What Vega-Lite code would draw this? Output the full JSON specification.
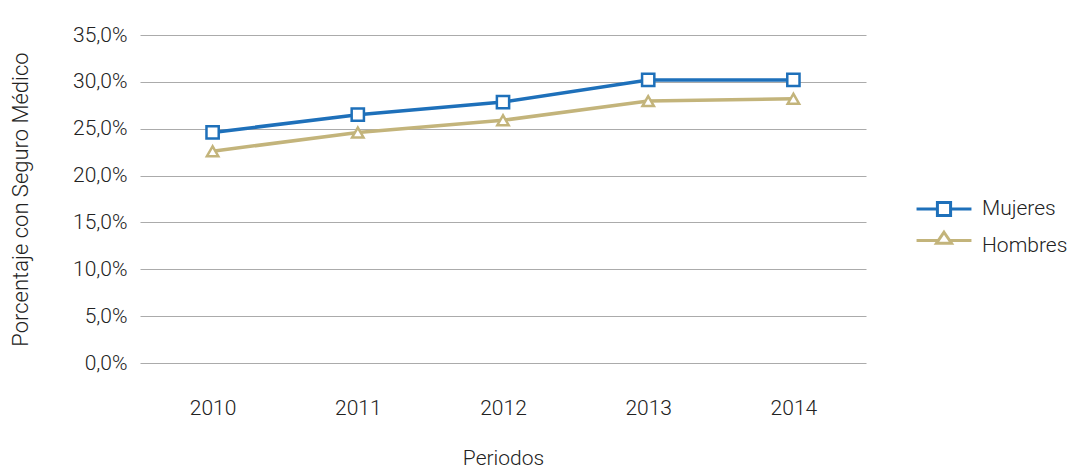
{
  "$schema": "https://vega.github.io/schema/vega-lite/v6.json",
  "width": 726,
  "height": 328,
  "autosize": {"type": "none"},
  "padding": {"left": 140, "top": 35, "right": 206, "bottom": 107},
  "background": "white",
  "config": {
    "view": {"stroke": null},
    "font": "Roboto",
    "axis": {"labelFont": "Roboto", "titleFont": "Roboto", "labelFontWeight": 300, "titleFontWeight": 300, "labelColor": "#222222", "titleColor": "#222222", "labelFontSize": 21, "titleFontSize": 21},
    "legend": {"labelFont": "Roboto", "labelFontWeight": 300, "labelColor": "#222222", "labelFontSize": 21}
  },
  "data": {
    "values": [
      {"periodo": "2010", "serie": "Mujeres", "valor": 24.6},
      {"periodo": "2011", "serie": "Mujeres", "valor": 26.5},
      {"periodo": "2012", "serie": "Mujeres", "valor": 27.85},
      {"periodo": "2013", "serie": "Mujeres", "valor": 30.2},
      {"periodo": "2014", "serie": "Mujeres", "valor": 30.2},
      {"periodo": "2010", "serie": "Hombres", "valor": 22.6},
      {"periodo": "2011", "serie": "Hombres", "valor": 24.6},
      {"periodo": "2012", "serie": "Hombres", "valor": 25.9},
      {"periodo": "2013", "serie": "Hombres", "valor": 27.95},
      {"periodo": "2014", "serie": "Hombres", "valor": 28.2}
    ]
  },
  "encoding": {
    "x": {
      "field": "periodo", "type": "ordinal", "title": "Periodos",
      "axis": {"labelAngle": 0, "ticks": false, "domain": false, "labelPadding": 34, "titleY": 95, "titleBaseline": "middle"}
    },
    "y": {
      "field": "valor", "type": "quantitative", "title": "Porcentaje con Seguro Médico",
      "scale": {"domain": [0, 35], "nice": false},
      "axis": {
        "values": [0, 5, 10, 15, 20, 25, 30, 35],
        "labelExpr": "replace(format(datum.value, '.1f'), '.', ',') + '%'",
        "ticks": false, "domain": false, "labelPadding": 13,
        "gridColor": "#ababab", "gridWidth": 1,
        "titleX": -120, "titleY": 164, "titleBaseline": "middle", "titleAngle": -90, "titleFontSize": 22
      }
    }
  },
  "resolve": {"legend": {"color": "independent", "shape": "independent"}},
  "layer": [
    {
      "mark": {"type": "line", "strokeWidth": 3.5},
      "encoding": {
        "color": {"field": "serie", "type": "nominal", "scale": {"domain": ["Mujeres", "Hombres"], "range": ["#1e70ba", "#c3b47b"]}, "legend": null}
      }
    },
    {
      "transform": [{"filter": "datum.serie === 'Mujeres'"}],
      "mark": {"type": "point", "shape": "square", "filled": false, "fill": "white", "fillOpacity": 1, "opacity": 1, "size": 150, "strokeWidth": 2.5},
      "encoding": {
        "color": {"field": "serie", "type": "nominal", "legend": null}
      }
    },
    {
      "transform": [{"filter": "datum.serie === 'Hombres'"}],
      "mark": {"type": "point", "shape": "triangle-up", "filled": false, "fill": "white", "fillOpacity": 1, "opacity": 1, "size": 130, "strokeWidth": 2.5},
      "encoding": {
        "color": {"field": "serie", "type": "nominal", "legend": null}
      }
    },
    {
      "mark": {"type": "point", "filled": false, "opacity": 0},
      "encoding": {
        "color": {"field": "serie", "type": "nominal",
          "legend": {"title": null, "orient": "none", "legendX": 784, "legendY": 154, "padding": 0, "symbolSize": 1340, "symbolStrokeWidth": 3, "symbolOpacity": 1, "symbolFillColor": "white", "labelOffset": 18, "rowPadding": 4}},
        "shape": {"field": "serie", "type": "nominal",
          "scale": {"domain": ["Mujeres", "Hombres"], "range": ["M-1.5,0H-0.36M0.36,0H1.5M-0.36,-0.36H0.36V0.36H-0.36Z", "M-1.5,-0.3H-0.31M0.31,-0.3H1.5M0,-0.75L0.41,-0.15H-0.41Z"]},
          "legend": {"title": null, "orient": "none", "legendX": 784, "legendY": 154, "padding": 0, "symbolSize": 1340, "symbolStrokeWidth": 3, "symbolOpacity": 1, "symbolFillColor": "white", "labelOffset": 18, "rowPadding": 4}}
      }
    }
  ]
}
